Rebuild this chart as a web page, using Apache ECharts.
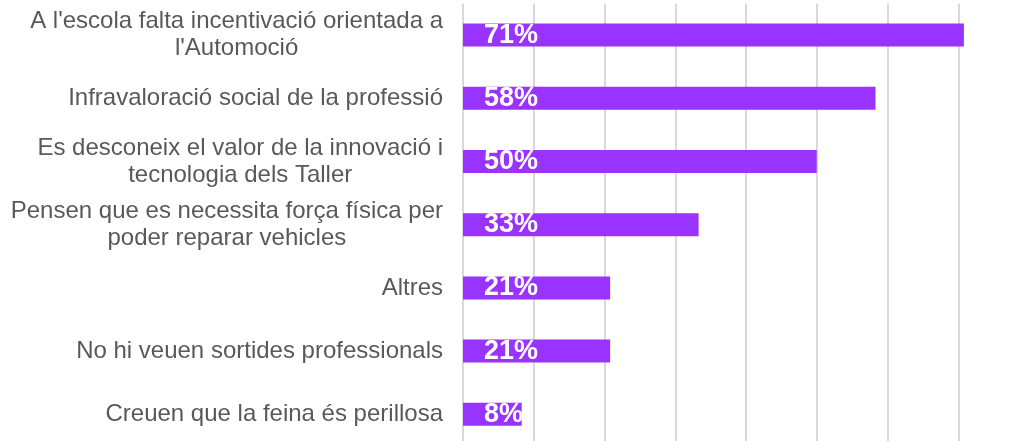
<!DOCTYPE html>
<html>
<head>
<meta charset="utf-8">
<script src="https://cdn.jsdelivr.net/npm/echarts@6/dist/echarts.min.js"></script>
<style>
  html, body { margin: 0; padding: 0; background: #ffffff; }
  #chart { width: 1017px; height: 441px; }
</style>
</head>
<body>
<div id="chart"></div>
<script>
// categories, top to bottom (multi-line labels split with \n)
const categories = [
  "A l'escola falta incentivació orientada a\nl'Automoció",
  'Infravaloració social de la professió',
  'Es desconeix el valor de la innovació i\ntecnologia dels Taller',
  'Pensen que es necessita força física per\npoder reparar vehicles',
  'Altres',
  'No hi veuen sortides professionals',
  'Creuen que la feina és perillosa',
]
// percentages
const values = [70.8, 58.3, 50, 33.3, 20.8, 20.8, 8.3]
const axisMax = 80
const axisStep = 10

const chart = echarts.init(document.getElementById('chart'))

chart.setOption({
  animation: false,
  backgroundColor: '#ffffff',
  // plot area runs a little past the right/bottom edge, like the cropped original
  grid: {
    left: 463,
    top: 3.5,
    width: 566,
    height: 442.4,
    outerBoundsMode: 'none',
  },
  xAxis: {
    type: 'value',
    min: 0,
    max: axisMax,
    interval: axisStep,
    axisLabel: { show: false },
    axisTick: { show: false },
    axisLine: { show: false },
    splitLine: {
      show: true,
      lineStyle: {
        color: '#d9d9d9',
        width: 2,
      },
    },
  },
  yAxis: {
    type: 'category',
    inverse: true,
    data: categories,
    axisTick: { show: false },
    axisLine: { show: false },
    axisLabel: {
      margin: 20,
      color: '#595959',
      fontSize: 24,
      fontFamily: 'Liberation Sans, Arial, sans-serif',
      formatter: function (value) {
        return value
          .split('\n')
          .map((line) => '{c|' + line + '}')
          .join('\n')
      },
      rich: {
        c: {
          align: 'center',
          color: '#595959',
          fontSize: 24,
          lineHeight: 27,
          fontFamily: 'Liberation Sans, Arial, sans-serif',
        },
      },
    },
  },
  series: [
    {
      type: 'bar',
      data: values,
      barWidth: 23,
      itemStyle: {
        color: '#9933ff',
      },
      label: {
        show: true,
        position: 'insideLeft',
        distance: 21,
        color: '#ffffff',
        fontSize: 27,
        fontWeight: 'bold',
        fontFamily: 'Liberation Sans, Arial, sans-serif',
        formatter: function (p) {
          return Math.round(p.value) + '%'
        },
      },
    },
  ],
})
</script>
</body>
</html>
